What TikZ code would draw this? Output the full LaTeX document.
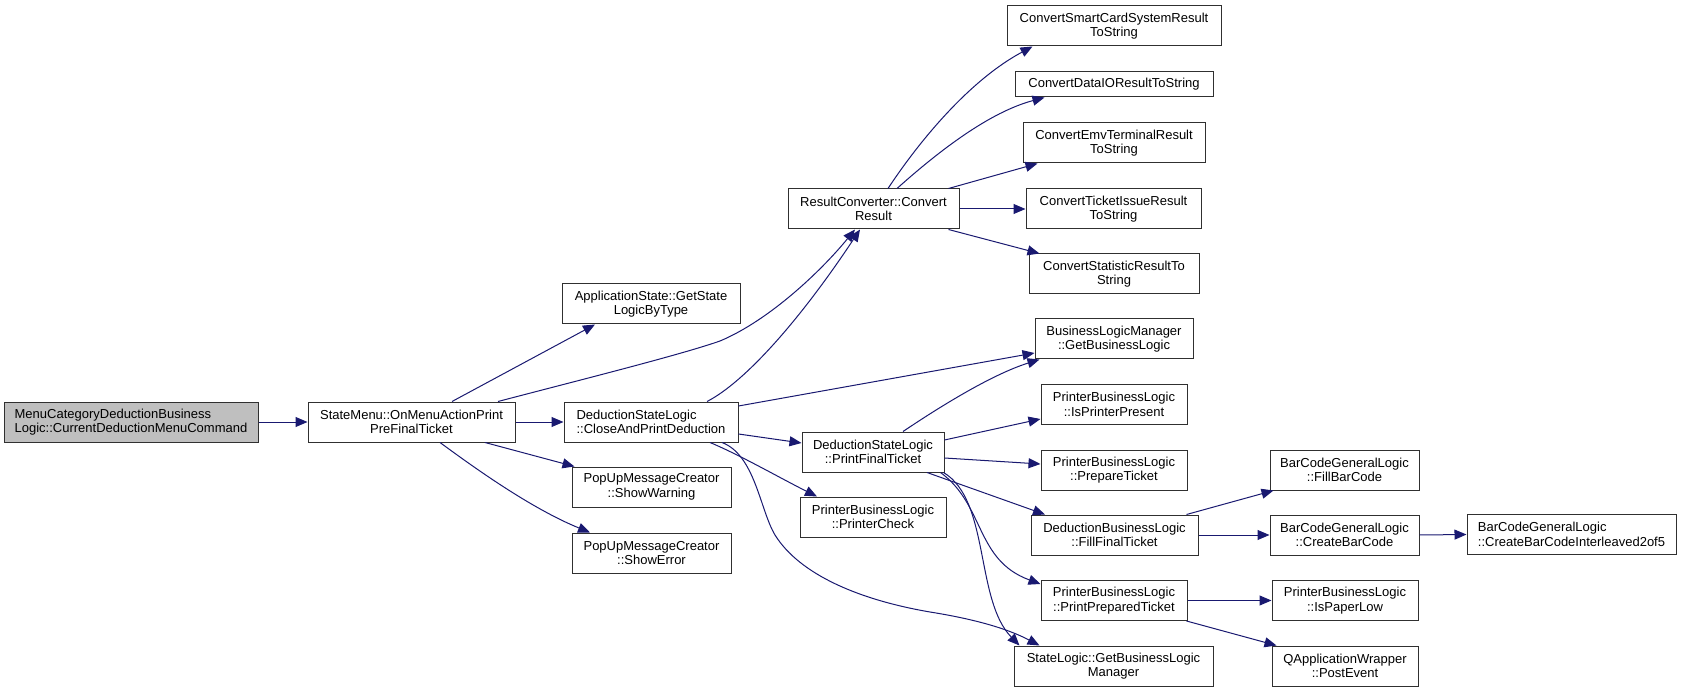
\documentclass[tikz,border=0pt]{standalone}
\usepackage{fontspec}
\setmainfont{Liberation Sans}
\usetikzlibrary{arrows.meta,calc}
\definecolor{edgecol}{HTML}{191970}
\definecolor{boxline}{HTML}{303030}
\definecolor{grayfill}{HTML}{BFBFBF}
\tikzset{
  box/.style={draw=boxline, line width=1pt, fill=white, inner sep=0pt, align=center,
    font=\fontsize{13}{14.6}\selectfont},
  sz/.style 2 args={minimum width=#1pt, minimum height=#2pt},
  edge/.style={draw=edgecol, line width=1pt, -{Triangle[length=12pt,width=10pt]}},
}
\begin{document}
\begin{tikzpicture}[x=1pt,y=-1pt]
\useasboundingbox (0,0) rectangle (1681,692);
% nodes
\node[box, sz={254}{40}, fill=grayfill, align=left] (mc) at (131,422) {MenuCategoryDeductionBusiness\\Logic::CurrentDeductionMenuCommand};
\node[box, sz={207}{40}] (sm) at (411.5,422) {StateMenu::OnMenuActionPrint\\PreFinalTicket};
\node[box, sz={178}{40}] (ast) at (651,304) {ApplicationState::GetState\\LogicByType};
\node[box, sz={174}{40}, align=left] (cap) at (651,422) {DeductionStateLogic\\::CloseAndPrintDeduction};
\node[box, sz={159}{40}] (sw) at (651.5,487) {PopUpMessageCreator\\::ShowWarning};
\node[box, sz={159}{40}] (se) at (651.5,553) {PopUpMessageCreator\\::ShowError};
\node[box, sz={171}{40}] (rc) at (873.5,209) {ResultConverter::Convert\\Result};
\node[box, sz={142}{40}] (pft) at (873,452) {DeductionStateLogic\\::PrintFinalTicket};
\node[box, sz={146}{40}] (pc) at (873,517) {PrinterBusinessLogic\\::PrinterCheck};
\node[box, sz={214}{40}] (smart) at (1114,26) {ConvertSmartCardSystemResult\\ToString};
\node[box, sz={198}{25}] (dataio) at (1114,84.5) {ConvertDataIOResultToString};
\node[box, sz={182}{40}] (emv) at (1114,143) {ConvertEmvTerminalResult\\ToString};
\node[box, sz={175}{40}] (tix) at (1113.5,209) {ConvertTicketIssueResult\\ToString};
\node[box, sz={170}{40}] (stat) at (1114,274) {ConvertStatisticResultTo\\String};
\node[box, sz={158}{40}] (blm) at (1114,339) {BusinessLogicManager\\::GetBusinessLogic};
\node[box, sz={146}{40}] (ipp) at (1114,404.5) {PrinterBusinessLogic\\::IsPrinterPresent};
\node[box, sz={146}{40}] (prep) at (1114,470) {PrinterBusinessLogic\\::PrepareTicket};
\node[box, sz={167}{40}] (fft) at (1114.5,535) {DeductionBusinessLogic\\::FillFinalTicket};
\node[box, sz={146}{40}] (ppt) at (1114,600.5) {PrinterBusinessLogic\\::PrintPreparedTicket};
\node[box, sz={199}{40}] (slm) at (1113.5,666) {StateLogic::GetBusinessLogic\\Manager};
\node[box, sz={149}{40}] (fbc) at (1344.5,470) {BarCodeGeneralLogic\\::FillBarCode};
\node[box, sz={149}{40}] (cbc) at (1344.5,535) {BarCodeGeneralLogic\\::CreateBarCode};
\node[box, sz={209}{40}, align=left] (il) at (1571.5,534.5) {BarCodeGeneralLogic\\::CreateBarCodeInterleaved2of5};
\node[box, sz={146}{40}] (ipl) at (1345,600.5) {PrinterBusinessLogic\\::IsPaperLow};
\node[box, sz={146}{40}] (pe) at (1345,666) {QApplicationWrapper\\::PostEvent};
% edges
\draw[edge] (mc.east) -- (sm.west);
\draw[edge] ($(sm.north)+(40.5,0)$) -- ($(ast.south)+(-56,0)$);
\draw[edge] ($(sm.north)+(86.5,0)$) .. controls (580,380) and (680,355) .. (720,341) .. controls (770,320) and (822,270) .. ($(rc.south)+(-18.5,0)$);
\draw[edge] (sm.east) -- (cap.west);
\draw[edge] ($(sm.south)+(73.5,0)$) -- ($(sw.north west)+(3,0)$);
\draw[edge] ($(sm.south)+(28.5,0)$) .. controls (472,466) and (530,508) .. ($(se.north)+(-61.5,0)$);
\draw[edge] ($(cap.north)+(56,0)$) .. controls (745,382) and (800,320) .. ($(rc.south)+(-13.5,0)$);
\draw[edge] ($(cap.east)+(0,-16)$) -- ($(blm.west)+(0,14)$);
\draw[edge] ($(cap.east)+(0,12)$) -- ($(pft.west)+(0,-9)$);
\draw[edge] ($(cap.south)+(59,0)$) .. controls (740,455) and (780,478) .. ($(pc.north)+(-56,0)$);
\draw[edge] ($(cap.south)+(71,0)$) .. controls (755,455) and (760,510) .. (775,535) .. controls (800,575) and (860,600) .. (930,612) .. controls (980,620) and (1010,630) .. ($(slm.north west)+(26,0)$);
\draw[edge] ($(pft.north)+(30,0)$) .. controls (935,410) and (990,375) .. ($(blm.south west)+(5,0)$);
\draw[edge] ($(pft.east)+(0,-12)$) -- ($(ipp.west)+(0,14.5)$);
\draw[edge] ($(pft.east)+(0,6)$) -- ($(prep.west)+(0,-6)$);
\draw[edge] ($(pft.south)+(54,0)$) -- ($(fft.north)+(-69.5,0)$);
\draw[edge] ($(pft.south east)+(-4,0)$) .. controls (985,505) and (975,560) .. ($(ppt.north west)+(0,4)$);
\draw[edge] ($(pft.south east)+(-1,0)$) .. controls (990,500) and (975,600) .. ($(slm.north west)+(6,0)$);
\draw[edge] ($(rc.north)+(14.5,0)$) .. controls (920,140) and (970,80) .. ($(smart.south west)+(26,0)$);
\draw[edge] ($(rc.north)+(23.5,0)$) .. controls (940,150) and (990,112) .. ($(dataio.south west)+(30,0)$);
\draw[edge] ($(rc.north east)+(-11,0)$) -- ($(emv.south west)+(15,0)$);
\draw[edge] (rc.east) -- (tix.west);
\draw[edge] ($(rc.south east)+(-11,0)$) -- ($(stat.north west)+(11,0)$);
\draw[edge] ($(fft.north east)+(-12,0)$) -- ($(fbc.south west)+(4,0)$);
\draw[edge] (fft.east) -- (cbc.west);
\draw[edge] (cbc.east) -- (il.west);
\draw[edge] (ppt.east) -- (ipl.west);
\draw[edge] ($(ppt.south east)+(-1,0)$) -- ($(pe.north west)+(5,0)$);
\end{tikzpicture}
\end{document}
